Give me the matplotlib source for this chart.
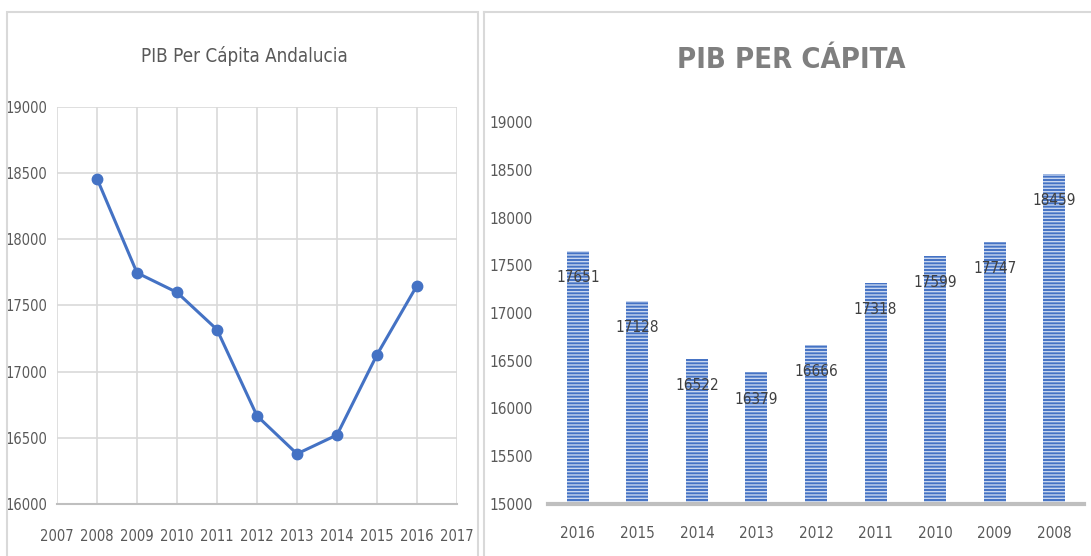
import matplotlib.pyplot as plt
from matplotlib.lines import Line2D
from matplotlib.patches import Rectangle

years = [2008, 2009, 2010, 2011, 2012, 2013, 2014, 2015, 2016]
pib = [18459, 17747, 17599, 17318, 16666, 16379, 16522, 17128, 17651]

bar_years = ['2016', '2015', '2014', '2013', '2012', '2011', '2010', '2009', '2008']
bar_values = [17651, 17128, 16522, 16379, 16666, 17318, 17599, 17747, 18459]

blue = '#4472C4'
txt = '#595959'
plt.rcParams['font.family'] = ['DejaVu Sans']
plt.rcParams['font.stretch'] = 'condensed'

fig = plt.figure(figsize=(10.91, 5.56), dpi=100)

# panel frames
fig.add_artist(Rectangle((7 / 1091, -0.01), (478 - 7) / 1091, 1 - 12 / 556 + 0.01,
                         transform=fig.transFigure, fill=False, edgecolor='#d9d9d9', lw=1.5))
fig.add_artist(Line2D([484 / 1091, 484 / 1091], [0, 1 - 12 / 556], transform=fig.transFigure,
                      color='#d9d9d9', lw=1.5))
fig.add_artist(Line2D([484 / 1091, 1], [1 - 12 / 556, 1 - 12 / 556], transform=fig.transFigure,
                      color='#d9d9d9', lw=1.5))

# left line chart
ax1 = fig.add_axes([57 / 1091, 1 - 504 / 556, 400 / 1091, 397 / 556])
ax1.plot(years, pib, color=blue, lw=2.2, marker='o', markersize=7.5, zorder=3)
ax1.set_xlim(2007, 2017)
ax1.set_ylim(16000, 19000)
ax1.set_xticks(range(2007, 2018))
ax1.set_yticks(range(16000, 19001, 500))
ax1.grid(True, color='#d9d9d9', lw=1.2)
ax1.set_axisbelow(True)
for s in ['top', 'right', 'left']:
    ax1.spines[s].set_visible(False)
ax1.spines['bottom'].set_color('#bfbfbf')
ax1.spines['bottom'].set_linewidth(1.5)
ax1.tick_params(length=0, labelsize=10.5, colors=txt)
ax1.tick_params(axis='x', pad=18)
ax1.tick_params(axis='y', pad=7)
fig.text(244 / 1091, 1 - 56 / 556, 'PIB Per Cápita Andalucia', ha='center', va='center',
         fontsize=13.5, color=txt)

# right bar chart
ax2 = fig.add_axes([548 / 1091, 1 - 504 / 556, 536 / 1091, 382 / 556])
x = range(len(bar_years))
ax2.bar(x, bar_values, width=0.37, color=blue, edgecolor='#c9d7f0', linewidth=0, hatch='-----')
ax2.set_xlim(-0.5, len(bar_years) - 0.5)
ax2.set_ylim(15000, 19000)
ax2.set_xticks(list(x))
ax2.set_xticklabels(bar_years)
ax2.set_yticks(range(15000, 19001, 500))
for s in ['top', 'right', 'left']:
    ax2.spines[s].set_visible(False)
ax2.spines['bottom'].set_color('#bfbfbf')
ax2.spines['bottom'].set_linewidth(3)
ax2.tick_params(length=0, labelsize=11, colors=txt)
ax2.tick_params(axis='x', pad=16)
ax2.tick_params(axis='y', pad=11)
for i, v in enumerate(bar_values):
    ax2.annotate(str(v), (i, v), xytext=(0, -27), textcoords='offset pixels',
                 ha='center', va='center', fontsize=11, color='#404040')
fig.text(791 / 1091, 1 - 60 / 556, 'PIB PER CÁPITA', ha='center', va='center',
         fontsize=21, fontweight='bold', color='#7f7f7f')

fig.savefig('out.png', dpi=100)
